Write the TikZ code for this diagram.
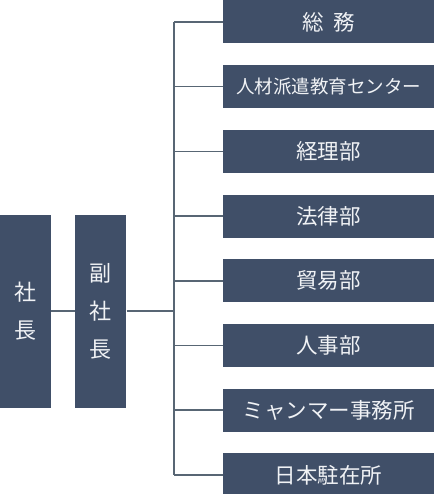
\documentclass[tikz,border=0pt]{standalone}
\usepackage{fontspec}
\setmainfont{Noto Sans CJK JP}
\usetikzlibrary{positioning}
\definecolor{boxblue}{RGB}{64,79,104}
\definecolor{linegray}{RGB}{88,102,116}
\definecolor{textwhite}{RGB}{240,242,245}

\begin{document}
\begin{tikzpicture}[x=1pt,y=-1pt,node distance=21.3pt and 24pt,inner sep=0pt]
\tikzstyle{dept}=[rectangle, fill=boxblue, minimum width=211pt, minimum height=43pt, text=textwhite, font=\fontsize{21.5pt}{25pt}\selectfont]
\tikzstyle{head}=[rectangle, fill=boxblue, minimum width=51pt, minimum height=193pt, text=textwhite, align=center, font=\fontsize{22pt}{38pt}\selectfont]
\tikzstyle{connect}=[draw=linegray, line width=1.5pt]
\useasboundingbox (0,0) rectangle (443,494);
\node[head] (shacho) at (25.5,311) {社\\長};
\node[head] (fuku) [right=of shacho] {副\\社\\長};
\node[dept] (soumu) at (328.5,22) {総\hspace{10pt}務};
\node[dept] (jinzai) [below=of soumu] {\fontsize{18.5pt}{22pt}\selectfont 人材派遣教育センター};
\node[dept] (keiri) [below=of jinzai] {経理部};
\node[dept] (houritsu) [below=of keiri] {法律部};
\node[dept] (boueki) [below=of houritsu] {貿易部};
\node[dept] (jinji) [below=of boueki] {人事部};
\node[dept] (myanmar) [below=of jinji] {ミャンマー事務所};
\node[dept] (nihon) [below=of myanmar] {日本駐在所};
\coordinate (bus) at (174,311);
\draw[connect] (shacho) -- (fuku);
\draw[connect] (fuku.east) -- (bus);
\draw[connect] (soumu.west -| bus) -- (nihon.west -| bus);
\foreach \n in {soumu,jinzai,keiri,houritsu,boueki,jinji,myanmar,nihon}
  \draw[connect] (\n.west) -- (\n.west -| bus);
\end{tikzpicture}
\end{document}
